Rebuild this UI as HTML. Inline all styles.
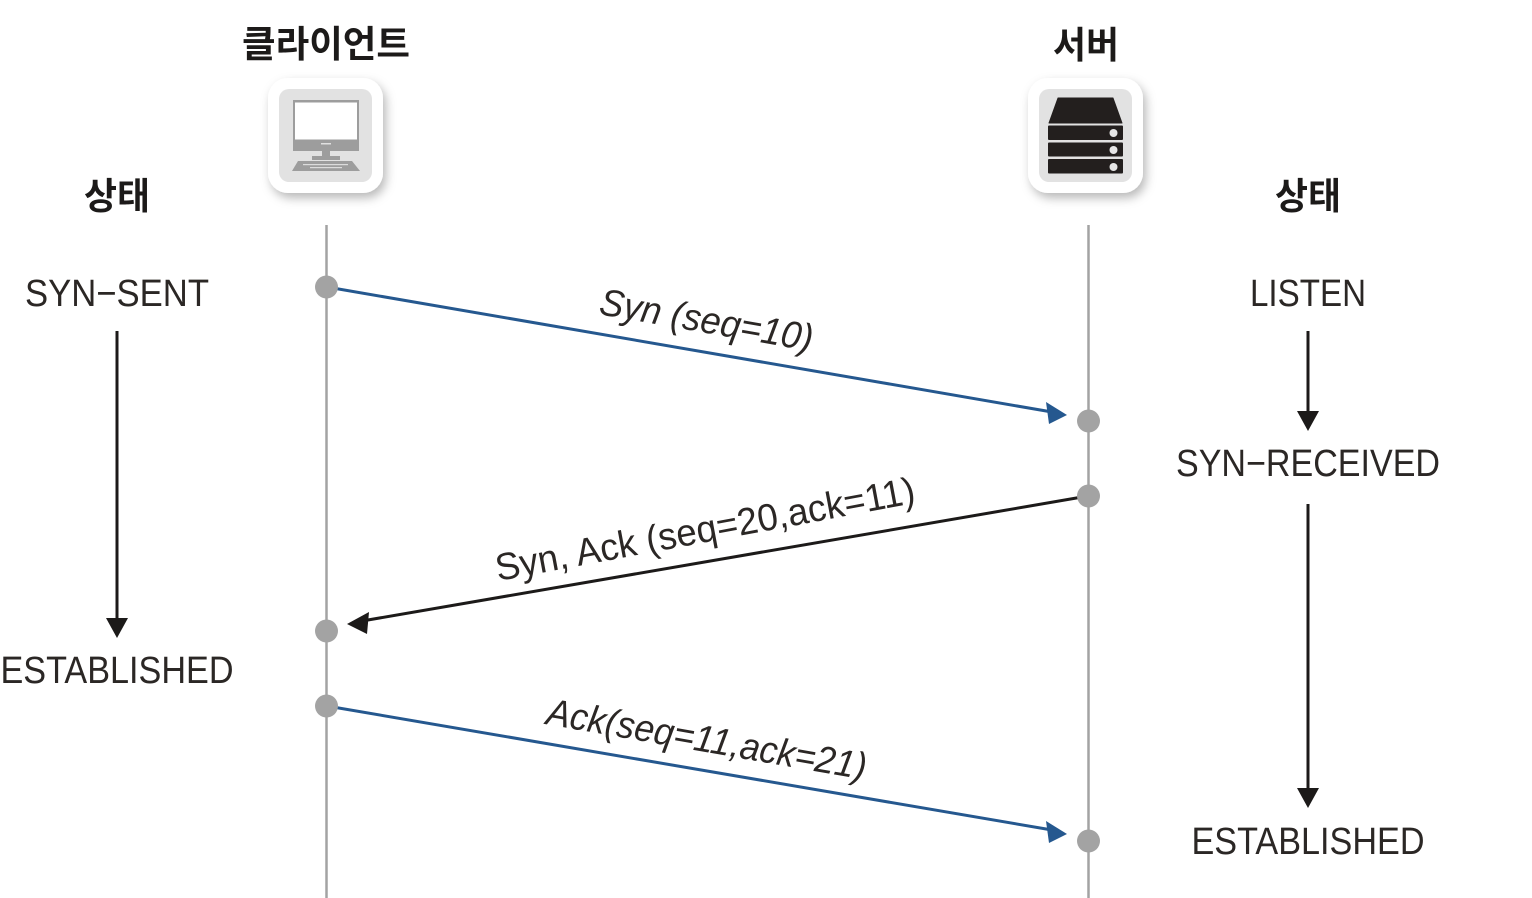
<!DOCTYPE html>
<html><head><meta charset="utf-8"><style>
html,body{margin:0;padding:0;background:#fff}
svg{display:block}
.l{font-family:"Liberation Sans",sans-serif;font-size:38px;fill:#2b2725;text-anchor:middle}
.r{font-family:"Liberation Sans",sans-serif;font-size:38px;font-style:italic;fill:#2b2725}
.k{font-family:"Liberation Sans","Noto Sans CJK KR",sans-serif;font-weight:700;font-size:37px;fill:#1c1a19;text-anchor:middle}
</style></head><body>
<svg width="1532" height="898" viewBox="0 0 1532 898" xmlns="http://www.w3.org/2000/svg">
<defs><filter id="s" x="-20%" y="-20%" width="140%" height="140%"><feDropShadow dx="3" dy="5" stdDeviation="5" flood-color="#000" flood-opacity=".28"/></filter></defs>

<text class="k" x="326" y="57" textLength="168" lengthAdjust="spacingAndGlyphs">클라이언트</text>
<text class="k" x="1086" y="58" textLength="66" lengthAdjust="spacingAndGlyphs">서버</text>
<text class="k" x="117" y="209" textLength="66" lengthAdjust="spacingAndGlyphs">상태</text>
<text class="k" x="1308" y="209" textLength="66" lengthAdjust="spacingAndGlyphs">상태</text>

<!-- client icon -->
<rect x="268" y="78" width="115" height="115" rx="20" fill="#fff" filter="url(#s)"/>
<rect x="279" y="89" width="93" height="93" rx="10" fill="#e2e2e2"/>
<rect x="293" y="100" width="66" height="51" fill="#9d9d9d"/>
<rect x="295" y="102.500" width="62" height="37" fill="#fff"/>
<rect x="321" y="143" width="10" height="1.500" fill="#e0e0e0"/>
<rect x="322" y="151" width="8" height="7" fill="#9d9d9d"/>
<rect x="312" y="156" width="28" height="4" fill="#9d9d9d"/>
<polygon points="298,161 352,161 360,171 292,171" fill="#9d9d9d"/>
<rect x="303" y="164" width="45" height="1.200" fill="#dcdcdc"/>
<rect x="310" y="167" width="32" height="1.200" fill="#dcdcdc"/>

<!-- server icon -->
<rect x="1028" y="78" width="115" height="115" rx="20" fill="#fff" filter="url(#s)"/>
<rect x="1039" y="89" width="93" height="93" rx="10" fill="#e2e2e2"/>
<polygon points="1058,98 1113,98 1122,123 1049,123" fill="#231f1e" stroke="#231f1e" stroke-width="1" stroke-linejoin="round"/>
<rect x="1048" y="125.500" width="75" height="14.500" rx="1" fill="#231f1e"/>
<rect x="1048" y="142.500" width="75" height="14" rx="1" fill="#231f1e"/>
<rect x="1048" y="159" width="75" height="14.500" rx="1" fill="#231f1e"/>
<circle cx="1113.500" cy="133" r="4" fill="#e6e6e6"/>
<circle cx="1113.500" cy="150" r="4" fill="#e6e6e6"/>
<circle cx="1113.500" cy="167" r="4" fill="#e6e6e6"/>

<!-- lifelines -->
<line x1="326.500" y1="225" x2="326.500" y2="898" stroke="#a3a3a3" stroke-width="2.500"/>
<line x1="1088.500" y1="225" x2="1088.500" y2="898" stroke="#a3a3a3" stroke-width="2.500"/>

<!-- connectors -->
<line x1="327" y1="287" x2="1052" y2="412" stroke="#25588f" stroke-width="3"/>
<polygon points="1067,415 1046,402 1049,424" fill="#25588f"/>
<line x1="1088" y1="496" x2="362" y2="621" stroke="#1c1a19" stroke-width="3"/>
<polygon points="347,624 369,612 367,634" fill="#1c1a19"/>
<line x1="327" y1="706" x2="1052" y2="830" stroke="#25588f" stroke-width="3"/>
<polygon points="1067,834 1046,821 1049,843" fill="#25588f"/>

<circle cx="326.500" cy="287" r="11.500" fill="#a3a3a3"/>
<circle cx="1088.500" cy="421" r="11.500" fill="#a3a3a3"/>
<circle cx="1088.500" cy="496" r="11.500" fill="#a3a3a3"/>
<circle cx="326.500" cy="631" r="11.500" fill="#a3a3a3"/>
<circle cx="326.500" cy="706" r="11.500" fill="#a3a3a3"/>
<circle cx="1088.500" cy="841" r="11.500" fill="#a3a3a3"/>

<!-- state arrows -->
<line x1="117" y1="331" x2="117" y2="620" stroke="#1c1a19" stroke-width="3"/>
<polygon points="106,618 128,618 117,638" fill="#1c1a19"/>
<line x1="1308" y1="331" x2="1308" y2="414" stroke="#1c1a19" stroke-width="3"/>
<polygon points="1297,411 1319,411 1308,431" fill="#1c1a19"/>
<line x1="1308" y1="504" x2="1308" y2="790" stroke="#1c1a19" stroke-width="3"/>
<polygon points="1297,788 1319,788 1308,808" fill="#1c1a19"/>

<!-- states -->
<text class="l" x="117" y="306" textLength="184" lengthAdjust="spacingAndGlyphs">SYN−SENT</text>
<text class="l" x="117" y="683" textLength="233" lengthAdjust="spacingAndGlyphs">ESTABLISHED</text>
<text class="l" x="1308" y="306" textLength="116" lengthAdjust="spacingAndGlyphs">LISTEN</text>
<text class="l" x="1308" y="476" textLength="264" lengthAdjust="spacingAndGlyphs">SYN−RECEIVED</text>
<text class="l" x="1308" y="854" textLength="233" lengthAdjust="spacingAndGlyphs">ESTABLISHED</text>

<!-- message labels -->
<text class="r" transform="translate(598,314) rotate(9.900)" textLength="216" lengthAdjust="spacingAndGlyphs">Syn (seq=10)</text>
<text class="l" style="text-anchor:start;font-size:38px" transform="translate(498,581) rotate(-10.600)" textLength="426" lengthAdjust="spacingAndGlyphs">Syn, Ack (seq=20,ack=11)</text>
<text class="r" transform="translate(545,724) rotate(9.900)" textLength="324" lengthAdjust="spacingAndGlyphs">Ack(seq=11,ack=21)</text>
</svg>
</body></html>
